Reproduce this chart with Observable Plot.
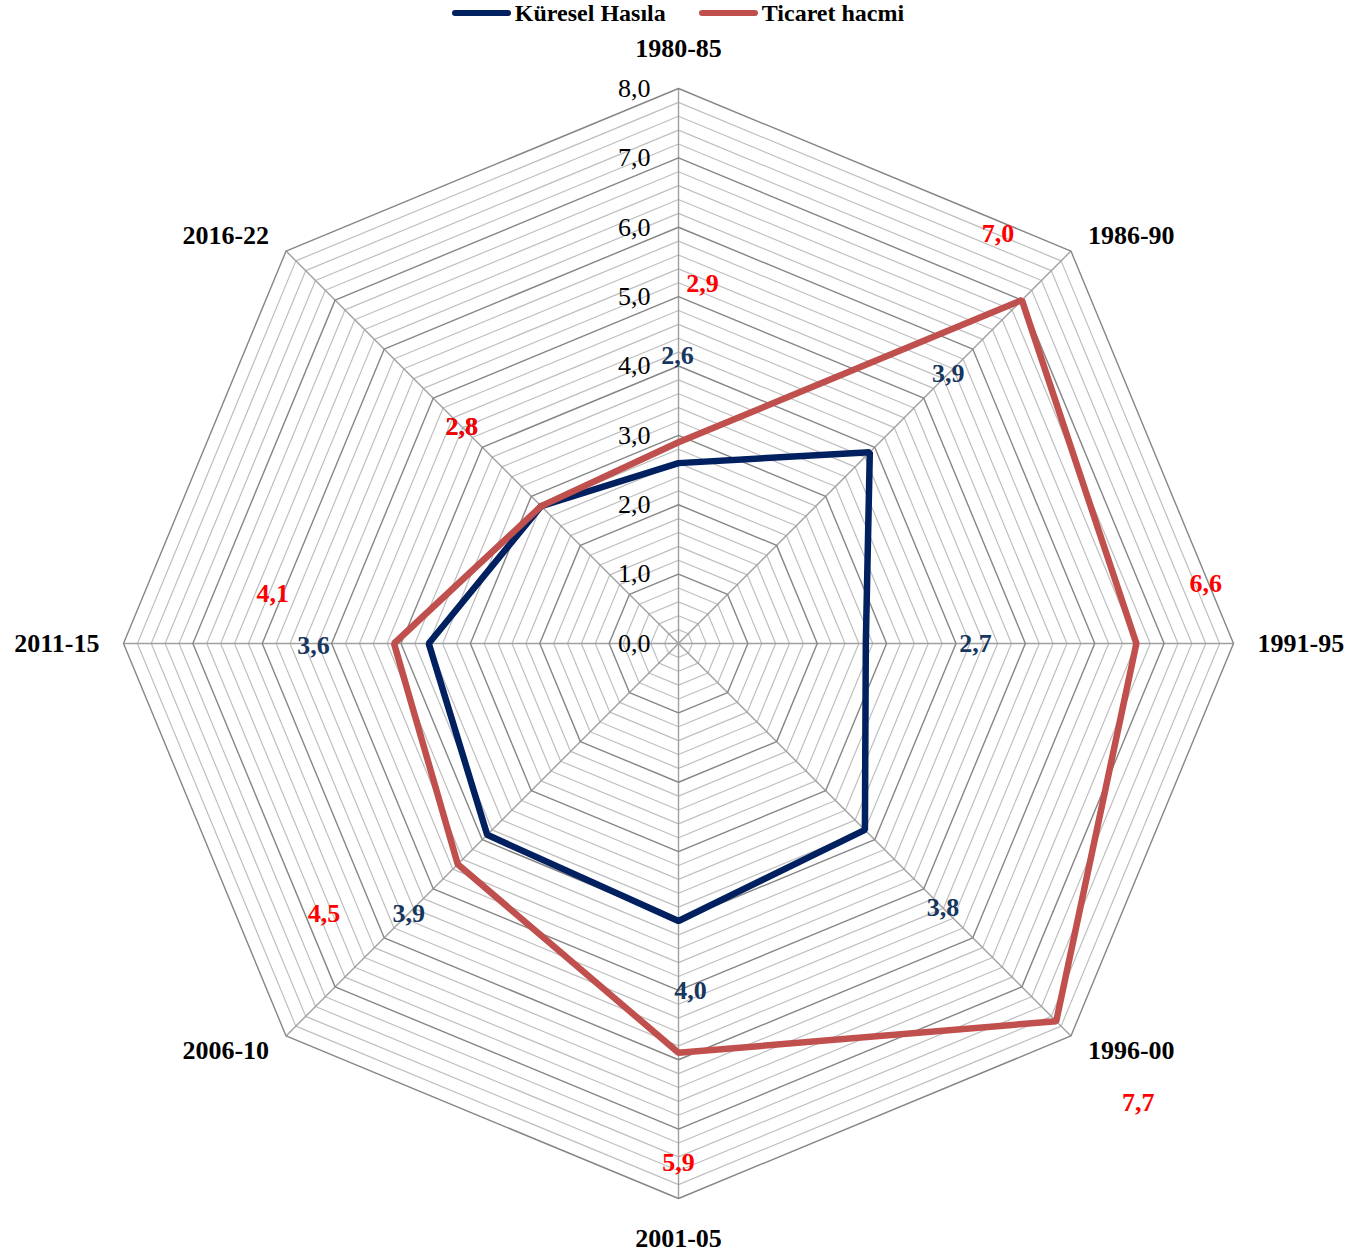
<!DOCTYPE html>
<html>
<head>
<meta charset="utf-8">
<script src="https://cdn.jsdelivr.net/npm/d3@7"></script>
<script src="https://cdn.jsdelivr.net/npm/@observablehq/plot@0.6"></script>
<style>
  html, body { margin: 0; padding: 0; background: #fff; }
  body { width: 1354px; font-family: "Liberation Serif", "Times New Roman", serif; }
  #legend { height: 26px; display: flex; justify-content: center; align-items: center; font-weight: bold; font-size: 24px; line-height: 26px; padding-left: 2px; }
  .item { display: flex; align-items: center; }
  .swatch { width: 59px; height: 6px; border-radius: 3px; margin-right: 4px; }
  #chart svg { display: block; }
</style>
</head>
<body>
<div id="legend"></div>
<div id="chart"></div>
<script>
// ---- data ----
const categories = ["1980-85", "1986-90", "1991-95", "1996-00", "2001-05", "2006-10", "2011-15", "2016-22"];
const kuresel = [2.6, 3.9, 2.7, 3.8, 4.0, 3.9, 3.6, 2.8];
const ticaret = [2.9, 7.0, 6.6, 7.7, 5.9, 4.5, 4.1, 2.8];
const seriesNames = ["Küresel Hasıla", "Ticaret hacmi"];
const tickValues = [0, 1, 2, 3, 4, 5, 6, 7, 8];
const tickLabels = ["0,0", "1,0", "2,0", "3,0", "4,0", "5,0", "6,0", "7,0", "8,0"];

// label placement (radius along spoke in data units, pixel nudge)
const kureselLabelR = [4.15, 5.5, 4.28, 5.39, 5.0, 5.5, 5.26, 4.42];
const kureselLabelDx = [-1, 0, 0, 0, 12, 0, 0, 0];
const kureselLabelDy = [0, 0, 0, 0, 0, 0, 2, 0];
const ticaretLabelR = [5.19, 7.43, 7.6, 9.37, 7.48, 6.37, 5.85, 4.42];
const ticaretLabelDx = [24, -45, 0, 0, 0, -42, 0, 0];
const ticaretLabelDy = [0, -45, -60, 0, 0, -42, -50, 0];

// ---- styles ----
const colors = { kuresel: "#002060", ticaret: "#C0504D", kureselLabel: "#17375E", ticaretLabel: "#FF0000" };
const FONT = '"Liberation Serif", "Times New Roman", serif';

// ---- geometry ----
const W = 1354, H = 1227;
const K = 69.375;           // px per unit
const cx = 678, cy = 617;   // center in svg px
const N = categories.length;
const ang = i => i * 2 * Math.PI / N;
const px = (r, i) => r * Math.sin(ang(i));
const py = (r, i) => r * Math.cos(ang(i));

// grid rings
const rings = [];
for (let k = 1; k <= 40; k++) {
  const r = k * 0.2;
  for (let i = 0; i < N; i++) rings.push({ r: +r.toFixed(1), major: k % 5 === 0, x: px(r, i), y: py(r, i) });
}
const minorRings = rings.filter(d => !d.major);
const majorRings = rings.filter(d => d.major);
const maxR = d3.max(tickValues);
const spokes = categories.map((c, i) => ({ x: px(maxR, i), y: py(maxR, i) }));

const seriesData = (vals, name) => vals.map((v, i) => ({ name, cat: categories[i], v, x: px(v, i), y: py(v, i) }));
const kData = seriesData(kuresel, seriesNames[0]);
const tData = seriesData(ticaret, seriesNames[1]);

const labelData = (vals, rr, dxs, dys) => vals.map((v, i) => ({
  text: v.toFixed(1).replace(".", ","),
  x: px(rr[i], i) + dxs[i] / K,
  y: py(rr[i], i) - dys[i] / K
}));
const kLabels = labelData(kuresel, kureselLabelR, kureselLabelDx, kureselLabelDy);
const tLabels = labelData(ticaret, ticaretLabelR, ticaretLabelDx, ticaretLabelDy);

const catLabels = categories.map((c, i) => {
  const s = Math.sin(ang(i)), co = Math.cos(ang(i));
  const sx = Math.abs(s) < 0.1 ? 0 : Math.sign(s);
  const sy = Math.abs(co) < 0.1 ? 0 : Math.sign(co);
  const dxp = sx * (Math.abs(s) > 0.9 ? 24 : 17);
  const dyp = -sy * (Math.abs(co) > 0.9 ? 40 : 15);
  return { text: c, x: px(maxR, i) + dxp / K, y: py(maxR, i) - dyp / K, anchor: sx > 0 ? "start" : sx < 0 ? "end" : "middle" };
});

const ticks = tickValues.map((v, i) => ({ x: 0, y: v, text: tickLabels[i] }));

const plot = Plot.plot({
  width: W, height: H,
  margin: 0,
  x: { domain: [-cx / K, (W - cx) / K], range: [0, W], axis: null },
  y: { domain: [-(H - cy) / K, cy / K], range: [H, 0], axis: null },
  style: { fontFamily: FONT, background: "white" },
  marks: [
    Plot.line(minorRings, { x: "x", y: "y", z: "r", curve: "linear-closed", stroke: "#BFBFBF", strokeWidth: 1.2 }),
    Plot.link(spokes, { x1: 0, y1: 0, x2: "x", y2: "y", stroke: "#A0A0A0", strokeWidth: 1.4 }),
    Plot.line(majorRings, { x: "x", y: "y", z: "r", curve: "linear-closed", stroke: "#868686", strokeWidth: 1.4 }),
    Plot.text(ticks, { x: "x", y: "y", text: "text", textAnchor: "end", dx: -28, fontSize: 26, fill: "black" }),
    Plot.line(kData, { x: "x", y: "y", curve: "linear-closed", stroke: colors.kuresel, strokeWidth: 6.5, strokeLinejoin: "miter" }),
    Plot.line(tData, { x: "x", y: "y", curve: "linear-closed", stroke: colors.ticaret, strokeWidth: 6.5, strokeLinejoin: "miter" }),
    Plot.text(kLabels, { x: "x", y: "y", text: "text", fontSize: 26, fontWeight: "bold", fill: colors.kureselLabel }),
    Plot.text(tLabels, { x: "x", y: "y", text: "text", fontSize: 26, fontWeight: "bold", fill: colors.ticaretLabel }),
    ...["start", "middle", "end"].map(a => Plot.text(catLabels.filter(d => d.anchor === a), { x: "x", y: "y", text: "text", textAnchor: a, fontSize: 26, fontWeight: "bold", fill: "black" }))
  ]
});
document.getElementById("chart").appendChild(plot);

// legend
const legend = document.getElementById("legend");
[[seriesNames[0], colors.kuresel], [seriesNames[1], colors.ticaret]].forEach(([name, col], j) => {
  const item = document.createElement("div");
  item.className = "item";
  if (j > 0) item.style.marginLeft = "33px";
  const sw = document.createElement("div");
  sw.className = "swatch";
  sw.style.background = col;
  const t = document.createElement("span");
  t.textContent = name;
  item.appendChild(sw); item.appendChild(t);
  legend.appendChild(item);
});
</script>
</body>
</html>
